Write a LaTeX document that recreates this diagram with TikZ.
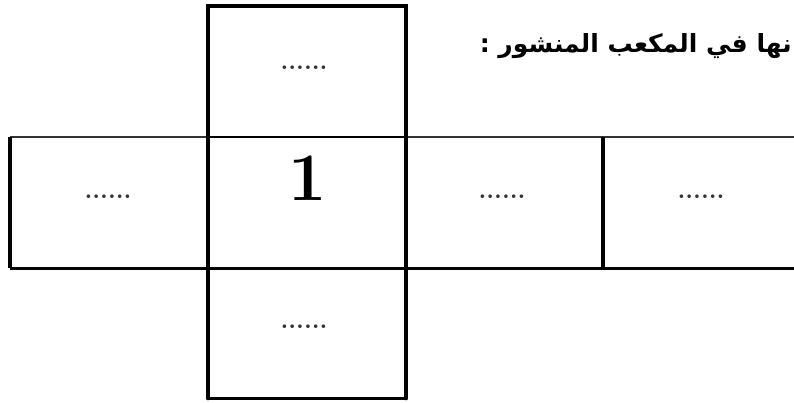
\documentclass[tikz,border=0pt]{standalone}
\usepackage{fontspec}
\newfontfamily\arabicfont[Script=Arabic]{DejaVu Sans}
\TeXXeTstate=1
\begin{document}
\begin{tikzpicture}[x=1pt,y=-1pt,
  face/.style={minimum width=198pt,minimum height=131pt,inner sep=0pt,outer sep=0pt},
  thickline/.style={line width=3.6pt,line cap=round},
  midline/.style={line width=2.6pt},
  thinline/.style={line width=1.8pt,draw=black!80},
  dotlabel/.style={anchor=base,text=black!80,font=\bfseries\fontsize{25}{25}\selectfont,inner sep=0pt},
]
\useasboundingbox (0,0) rectangle (794,402);
\clip (0,0) rectangle (794,402);
\fill[white] (0,0) rectangle (794,402);
% faces
\node[face] (ftop) at (307,71.5) {};
\node[face] (fleft) at (109,202.5) {};
\node[face] (fone) at (307,202.5) {};
\node[face] (fthree) at (504.5,202.5) {};
\node[face,minimum width=197pt] (ffour) at (701.5,202.5) {};
\node[face] (fbot) at (307,333) {};
% top face outline
\draw[thickline] (ftop.south west) -- (ftop.north west) -- (ftop.north east) -- (ftop.south east);
% horizontal line between top face and row
\draw[thinline] (fleft.north west) -- (fleft.north east);
\draw[midline] (fone.north west) -- (fone.north east);
\draw[thinline] (fthree.north west) -- (fthree.north east) -- (ffour.north east);
% bottom line of row
\draw[line width=3pt] (fleft.south west) -- (fleft.south east) -- (fone.south east) -- (fthree.south east) -- (ffour.south east);
% verticals
\draw[line width=4pt] (fleft.north west) -- (fleft.south west);
\draw[thickline] (ftop.south west) -- (fbot.south west);
\draw[thickline] (ftop.south east) -- (fbot.south east);
\draw[line width=4pt] (ffour.north west) -- (ffour.south west);
% bottom face
\draw[thickline] (fbot.south west) -- (fbot.south east);
% labels
\node[dotlabel] (dtop) at (304,69) {......};
\node[dotlabel] (dleft) at (108,198) {......};
\node[dotlabel] (dthree) at (502,198) {......};
\node[dotlabel] (dfour) at (701,198) {......};
\node[dotlabel] (dbot) at (304,328) {......};
\node[anchor=base,inner sep=0pt,font=\bfseries\fontsize{68}{68}\selectfont] (one) at (308,200) {1};
% title
\node[anchor=base east,inner sep=0pt] (title) at (792,52) {\arabicfont\bfseries\fontsize{25}{25}\selectfont\beginR نها في المكعب المنشور :\endR};
\end{tikzpicture}
\end{document}
